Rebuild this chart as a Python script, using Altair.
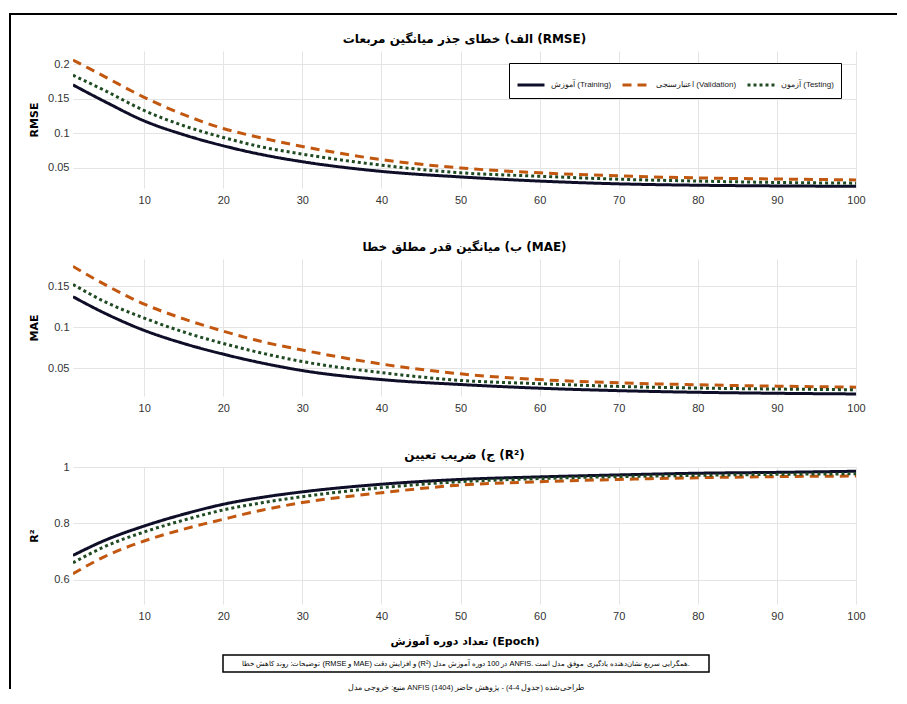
import altair as alt
import pandas as pd

# ---------------- data ----------------
epochs = [1, 5, 10, 15, 20, 25, 30, 40, 50, 60, 70, 80, 90, 100]

rmse_train = [0.170, 0.146, 0.118, 0.098, 0.082, 0.069, 0.059, 0.045, 0.037, 0.031, 0.027, 0.025, 0.024, 0.0235]
rmse_val   = [0.206, 0.182, 0.152, 0.127, 0.107, 0.093, 0.081, 0.062, 0.050, 0.043, 0.0385, 0.0356, 0.034, 0.0327]
rmse_test  = [0.184, 0.162, 0.133, 0.111, 0.094, 0.080, 0.070, 0.054, 0.043, 0.038, 0.0337, 0.031, 0.029, 0.028]

mae_train = [0.137, 0.117, 0.096, 0.080, 0.067, 0.056, 0.047, 0.036, 0.030, 0.0255, 0.0225, 0.0205, 0.0193, 0.0185]
mae_val   = [0.174, 0.152, 0.128, 0.110, 0.095, 0.082, 0.072, 0.055, 0.043, 0.036, 0.032, 0.0297, 0.028, 0.0268]
mae_test  = [0.152, 0.131, 0.111, 0.094, 0.080, 0.068, 0.058, 0.0445, 0.035, 0.031, 0.0277, 0.0257, 0.0245, 0.0236]

r2_train = [0.687, 0.740, 0.791, 0.833, 0.868, 0.893, 0.912, 0.939, 0.956, 0.965, 0.972, 0.978, 0.981, 0.985]
r2_val   = [0.622, 0.683, 0.738, 0.780, 0.815, 0.848, 0.874, 0.909, 0.936, 0.948, 0.956, 0.962, 0.966, 0.968]
r2_test  = [0.661, 0.718, 0.770, 0.812, 0.848, 0.874, 0.895, 0.927, 0.948, 0.959, 0.966, 0.9705, 0.974, 0.976]

series_names = ["آموزش (Training)", "اعتبارسنجی (Validation)", "آزمون (Testing)"]
series_colors = ["#0e0e28", "#c2570f", "#1f4a22"]
series_dash = [[1, 0], [9, 6], [3, 3]]

x_ticks = [10, 20, 30, 40, 50, 60, 70, 80, 90, 100]

titles = [
    "الف) خطای جذر میانگین مربعات (RMSE)",
    "ب) میانگین قدر مطلق خطا (MAE)",
    "ج) ضریب تعیین (R²)",
]
y_titles = ["RMSE", "MAE", "R²"]
y_domains = [[0.021, 0.219], [0.016, 0.183], [0.515, 1.0]]
y_ticks = [[0.05, 0.1, 0.15, 0.2], [0.05, 0.1, 0.15], [0.6, 0.8, 1.0]]

x_title = "تعداد دوره آموزش (Epoch)"
note_text = "توضیحات: روند کاهش خطا (RMSE و MAE) و افزایش دقت (R²) در 100 دوره آموزش مدل ANFIS. همگرایی سریع نشان‌دهنده یادگیری موفق مدل است."
source_text = "منبع: خروجی مدل ANFIS (1404) طراحی‌شده (جدول 4-4) - پژوهش حاضر"

# ---------------- chart ----------------
W, H = 783, 137
LBL_FONT = "Liberation Sans Narrow, Liberation Sans, Arial"
TTL_FONT = "DejaVu Sans, Noto Sans"


def long_df(vals_list):
    rows = []
    for name, vals in zip(series_names, vals_list):
        for e, v in zip(epochs, vals):
            rows.append({"epoch": e, "value": v, "series": name})
    return pd.DataFrame(rows)


legend_obj = alt.Legend(
    title=None, orient="none", legendX=436, legendY=12, direction="horizontal",
    strokeColor="black", fillColor="white", padding=7,
    symbolType="stroke", symbolSize=729, symbolStrokeWidth=3,
    labelFont=LBL_FONT, labelFontSize=8, labelColor="#222",
    columnPadding=4, labelLimit=300, labelOffset=5,
)


def panel(i, vals_list, extra=None):
    df = long_df(vals_list)
    show = i == 0
    x_axis = alt.Axis(
        values=x_ticks, title=x_title if i == 2 else None, ticks=False, domain=False,
        labelFont=LBL_FONT, labelFontSize=11, labelColor="#333", labelPadding=6,
        labelFlush=False,
        gridColor="#e4e4e4", titleFont=TTL_FONT, titleFontSize=11, titleFontWeight="bold",
        titleColor="black", titleY=37, titleBaseline="middle",
    )
    y_axis = alt.Axis(
        values=y_ticks[i], format=".2~f", title=y_titles[i], ticks=False, domain=False,
        labelFont=LBL_FONT, labelFontSize=11, labelColor="#333", labelPadding=4,
        labelFlush=False,
        gridColor="#e4e4e4", titleFont=TTL_FONT, titleFontSize=11, titleFontWeight="bold",
        titleColor="black", titleX=-39, titleY=H / 2, titleAngle=270,
        titleAlign="center", titleBaseline="middle",
    )
    lines = alt.Chart(df).mark_line(strokeWidth=3, interpolate="monotone", clip=True).encode(
        x=alt.X("epoch:Q", scale=alt.Scale(domain=[1, 100], nice=False, zero=False), axis=x_axis),
        y=alt.Y("value:Q", scale=alt.Scale(domain=y_domains[i], nice=False, zero=False), axis=y_axis),
        color=alt.Color("series:N", scale=alt.Scale(domain=series_names, range=series_colors),
                        sort=series_names, legend=legend_obj if show else None),
        strokeDash=alt.StrokeDash("series:N", scale=alt.Scale(domain=series_names, range=series_dash),
                                  sort=series_names, legend=legend_obj if show else None),
    )
    title_mark = alt.Chart(pd.DataFrame({"t": [titles[i]]})).mark_text(
        font=TTL_FONT, fontSize=12, fontWeight="bold", color="black",
        align="center", baseline="middle").encode(
        text="t:N", x=alt.value(W / 2), y=alt.value(-12))
    layers = [lines, title_mark] + (extra or [])
    return alt.layer(*layers).properties(width=W, height=H)


one = pd.DataFrame({"k": [0]})
frame_v = alt.Chart(one).mark_rule(color="black", strokeWidth=2).encode(
    x=alt.value(-63), y=alt.value(-38), y2=alt.value(638))
frame_h = alt.Chart(one).mark_rule(color="black", strokeWidth=2).encode(
    x=alt.value(-64), x2=alt.value(824), y=alt.value(-37))

note_box = alt.Chart(one).mark_rect(fill="white", stroke="black", strokeWidth=1.5).encode(
    x=alt.value(150), x2=alt.value(636), y=alt.value(188), y2=alt.value(205))
note = alt.Chart(pd.DataFrame({"t": [note_text]})).mark_text(
    font=LBL_FONT, fontSize=7.4, color="black", align="center", baseline="middle").encode(
    text="t:N", x=alt.value(393), y=alt.value(196.5))
source = alt.Chart(pd.DataFrame({"t": [source_text]})).mark_text(
    font=LBL_FONT, fontSize=7.5, color="#111", align="center", baseline="middle").encode(
    text="t:N", x=alt.value(393), y=alt.value(221))

p1 = panel(0, [rmse_train, rmse_val, rmse_test], [frame_v, frame_h])
p2 = panel(1, [mae_train, mae_val, mae_test])
p3 = panel(2, [r2_train, r2_val, r2_test], [note_box, note, source])

chart = alt.vconcat(p1, p2, p3, spacing=71, bounds="flush").resolve_scale(
    color="independent", strokeDash="independent"
).resolve_legend(
    color="independent", strokeDash="independent"
).properties(
    padding={"left": 0, "top": 4, "right": 0, "bottom": 0}, background="white"
).configure_view(stroke=None)

chart.save("out.html", embed_options={"renderer": "svg", "actions": False})
